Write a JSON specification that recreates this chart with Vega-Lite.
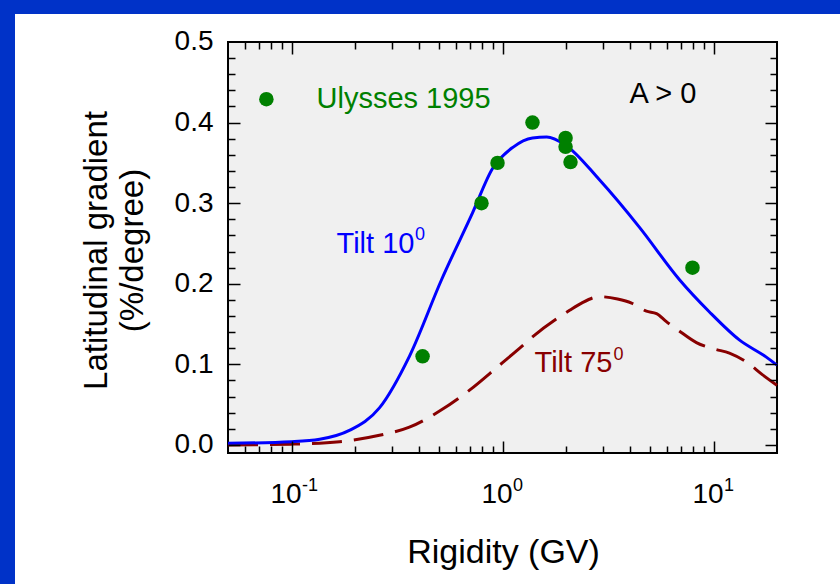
{
  "$schema": "https://vega.github.io/schema/vega-lite/v6.json",
  "width": 825,
  "height": 570,
  "autosize": {"type": "none"},
  "padding": {"left": 15, "top": 14, "right": 0, "bottom": 0},
  "background": "#0032c8",
  "config": {
    "view": {"fill": "white", "stroke": null},
    "axis": {"grid": false, "labelFont": "Liberation Sans", "titleFont": "Liberation Sans", "labelColor": "black", "titleColor": "black", "tickColor": "black"}
  },
  "datasets": {
    "panel": [{"x1": 0.05, "x2": 20, "y1": -0.01, "y2": 0.5}],
    "tilt10": [
      {"rigidity": 0.05, "gradient": 0.002},
      {"rigidity": 0.1, "gradient": 0.004},
      {"rigidity": 0.136, "gradient": 0.007},
      {"rigidity": 0.188, "gradient": 0.018},
      {"rigidity": 0.261, "gradient": 0.046},
      {"rigidity": 0.362, "gradient": 0.11},
      {"rigidity": 0.514, "gradient": 0.205},
      {"rigidity": 0.721, "gradient": 0.288},
      {"rigidity": 0.897, "gradient": 0.343},
      {"rigidity": 1.115, "gradient": 0.369},
      {"rigidity": 1.387, "gradient": 0.381},
      {"rigidity": 1.62, "gradient": 0.382},
      {"rigidity": 1.99, "gradient": 0.372},
      {"rigidity": 2.88, "gradient": 0.329},
      {"rigidity": 4.46, "gradient": 0.27},
      {"rigidity": 6.9, "gradient": 0.205},
      {"rigidity": 9.57, "gradient": 0.165},
      {"rigidity": 13.3, "gradient": 0.13},
      {"rigidity": 17.8, "gradient": 0.109},
      {"rigidity": 20, "gradient": 0.099}
    ],
    "tilt75": [
      {"rigidity": 0.05, "gradient": 0.0},
      {"rigidity": 0.1, "gradient": 0.001},
      {"rigidity": 0.169, "gradient": 0.004},
      {"rigidity": 0.261, "gradient": 0.012},
      {"rigidity": 0.362, "gradient": 0.022},
      {"rigidity": 0.503, "gradient": 0.042},
      {"rigidity": 0.698, "gradient": 0.068},
      {"rigidity": 0.968, "gradient": 0.099},
      {"rigidity": 1.23, "gradient": 0.122},
      {"rigidity": 1.387, "gradient": 0.134},
      {"rigidity": 2.08, "gradient": 0.167},
      {"rigidity": 2.37, "gradient": 0.176},
      {"rigidity": 2.88, "gradient": 0.184},
      {"rigidity": 3.51, "gradient": 0.181},
      {"rigidity": 4.09, "gradient": 0.176},
      {"rigidity": 4.81, "gradient": 0.166},
      {"rigidity": 5.37, "gradient": 0.163},
      {"rigidity": 5.98, "gradient": 0.153},
      {"rigidity": 6.75, "gradient": 0.143},
      {"rigidity": 8.3, "gradient": 0.127},
      {"rigidity": 10.1, "gradient": 0.119},
      {"rigidity": 11.9, "gradient": 0.114},
      {"rigidity": 14.3, "gradient": 0.103},
      {"rigidity": 17.1, "gradient": 0.087},
      {"rigidity": 20, "gradient": 0.074}
    ],
    "ulysses": [
      {"rigidity": 0.418, "gradient": 0.11},
      {"rigidity": 0.795, "gradient": 0.3},
      {"rigidity": 0.947, "gradient": 0.35},
      {"rigidity": 1.387, "gradient": 0.4},
      {"rigidity": 1.99, "gradient": 0.381},
      {"rigidity": 1.99, "gradient": 0.37},
      {"rigidity": 2.1, "gradient": 0.351},
      {"rigidity": 7.95, "gradient": 0.22}
    ],
    "legendDot": [{"rigidity": 0.076, "gradient": 0.429}],
    "notes": [
      {"note": "Ulysses 1995", "rigidity": 0.1314, "gradient": 0.418, "kind": "legend"},
      {"note": "A > 0", "rigidity": 4.0, "gradient": 0.4243, "kind": "polarity"},
      {"note": "Tilt 10", "rigidity": 0.1634, "gradient": 0.2382, "kind": "tilt10"},
      {"note": "Tilt 75", "rigidity": 1.418, "gradient": 0.0906, "kind": "tilt75"}
    ],
    "superscripts": [
      {"note": "0", "rigidity": 0.385, "gradient": 0.2543, "kind": "tilt10"},
      {"note": "0", "rigidity": 3.36, "gradient": 0.1055, "kind": "tilt75"}
    ]
  },
  "resolve": {"axis": {"x": "independent", "y": "independent"}},
  "layer": [
    {
      "data": {"name": "panel"},
      "mark": {"type": "rect", "fill": "#f0f0f0", "stroke": "black", "strokeWidth": 2},
      "encoding": {
        "x": {"field": "x1", "type": "quantitative",
          "scale": {"type": "log", "domain": [0.004891, 39.77], "nice": false},
          "axis": {"orient": "bottom", "offset": -131, "domain": false, "ticks": false, "zindex": 1,
            "values": [0.1, 1, 10],
            "labelExpr": "'10'", "labelOffset": -6,
            "labelFontSize": 28, "labelPadding": 27, "labelFlush": false, "labelOverlap": false,
            "title": "Rigidity (GV)", "titleFontSize": 34, "titleFontWeight": "normal",
            "titleX": 488, "titleY": 82, "titleBaseline": "top", "titleAlign": "center"}},
        "x2": {"field": "x2"},
        "y": {"field": "y1", "type": "quantitative",
          "scale": {"domain": [-0.17256, 0.53474], "nice": false, "zero": false},
          "axis": {"orient": "left", "offset": -213, "domain": false, "ticks": false, "zindex": 1,
            "values": [0, 0.1, 0.2, 0.3, 0.4, 0.5], "format": ".1f",
            "labelFontSize": 28, "labelPadding": 15, "labelFlush": false, "labelOverlap": false,
            "title": ["Latitudinal gradient", "(%/degree)"], "titleFontSize": 33, "titleFontWeight": "normal",
            "titleLineHeight": 36, "titleAngle": -90, "titleBaseline": "alphabetic", "titleAlign": "center",
            "titleX": -122, "titleY": 236}},
        "y2": {"field": "y2"}
      }
    },
    {
      "data": {"name": "panel"},
      "mark": {"type": "rect", "opacity": 0},
      "encoding": {
        "x": {"field": "x1", "type": "quantitative",
          "scale": {"type": "log", "domain": [0.004891, 39.77], "nice": false},
          "axis": {"orient": "bottom", "offset": -131, "domain": false, "ticks": false, "title": null, "zindex": 1,
            "values": [0.1, 1, 10],
            "labelExpr": "datum.value < 0.5 ? '-1' : (datum.value < 5 ? '0' : '1')",
            "labelAlign": "left", "labelOffset": 10,
            "labelFontSize": 18, "labelPadding": 23, "labelFlush": false, "labelOverlap": false}},
        "x2": {"field": "x2"},
        "y": {"field": "y1", "type": "quantitative",
          "scale": {"domain": [-0.17256, 0.53474], "nice": false, "zero": false}, "axis": null},
        "y2": {"field": "y2"}
      }
    },
    {
      "data": {"name": "panel"},
      "mark": {"type": "rect", "opacity": 0},
      "encoding": {
        "x": {"field": "x1", "type": "quantitative",
          "scale": {"type": "log", "domain": [0.004891, 39.77], "nice": false},
          "axis": {"orient": "bottom", "offset": -131, "domain": false, "labels": false, "title": null, "zindex": 1,
            "values": [0.1, 1, 10], "tickSize": -12, "tickWidth": 1.5}},
        "x2": {"field": "x2"},
        "y": {"field": "y1", "type": "quantitative",
          "scale": {"domain": [-0.17256, 0.53474], "nice": false, "zero": false},
          "axis": {"orient": "left", "offset": -213, "domain": false, "labels": false, "title": null, "zindex": 1,
            "values": [0, 0.1, 0.2, 0.3, 0.4], "tickSize": -12, "tickWidth": 1.5}},
        "y2": {"field": "y2"}
      }
    },
    {
      "data": {"name": "panel"},
      "mark": {"type": "rect", "opacity": 0},
      "encoding": {
        "x": {"field": "x1", "type": "quantitative",
          "scale": {"type": "log", "domain": [0.004891, 39.77], "nice": false},
          "axis": {"orient": "bottom", "offset": -131, "domain": false, "labels": false, "title": null, "zindex": 1,
            "values": [0.06, 0.07, 0.08, 0.09, 0.2, 0.3, 0.4, 0.5, 0.6, 0.7, 0.8, 0.9, 2, 3, 4, 5, 6, 7, 8, 9],
            "tickSize": -7, "tickWidth": 1.5}},
        "x2": {"field": "x2"},
        "y": {"field": "y1", "type": "quantitative",
          "scale": {"domain": [-0.17256, 0.53474], "nice": false, "zero": false},
          "axis": {"orient": "left", "offset": -213, "domain": false, "labels": false, "title": null, "zindex": 1,
            "values": [0.02, 0.04, 0.06, 0.08, 0.12, 0.14, 0.16, 0.18, 0.22, 0.24, 0.26, 0.28, 0.32, 0.34, 0.36, 0.38, 0.42, 0.44, 0.46, 0.48],
            "tickSize": -7, "tickWidth": 1.5}},
        "y2": {"field": "y2"}
      }
    },
    {
      "data": {"name": "panel"},
      "mark": {"type": "rect", "opacity": 0},
      "encoding": {
        "x": {"field": "x1", "type": "quantitative",
          "scale": {"type": "log", "domain": [0.004891, 39.77], "nice": false},
          "axis": {"orient": "top", "offset": -28, "domain": false, "labels": false, "title": null, "zindex": 1,
            "values": [0.1, 1, 10], "tickSize": -12, "tickWidth": 1.5}},
        "x2": {"field": "x2"},
        "y": {"field": "y1", "type": "quantitative",
          "scale": {"domain": [-0.17256, 0.53474], "nice": false, "zero": false},
          "axis": {"orient": "right", "offset": -63, "domain": false, "labels": false, "title": null, "zindex": 1,
            "values": [0, 0.1, 0.2, 0.3, 0.4], "tickSize": -12, "tickWidth": 1.5}},
        "y2": {"field": "y2"}
      }
    },
    {
      "data": {"name": "panel"},
      "mark": {"type": "rect", "opacity": 0},
      "encoding": {
        "x": {"field": "x1", "type": "quantitative",
          "scale": {"type": "log", "domain": [0.004891, 39.77], "nice": false},
          "axis": {"orient": "top", "offset": -28, "domain": false, "labels": false, "title": null, "zindex": 1,
            "values": [0.06, 0.07, 0.08, 0.09, 0.2, 0.3, 0.4, 0.5, 0.6, 0.7, 0.8, 0.9, 2, 3, 4, 5, 6, 7, 8, 9],
            "tickSize": -7, "tickWidth": 1.5}},
        "x2": {"field": "x2"},
        "y": {"field": "y1", "type": "quantitative",
          "scale": {"domain": [-0.17256, 0.53474], "nice": false, "zero": false},
          "axis": {"orient": "right", "offset": -63, "domain": false, "labels": false, "title": null, "zindex": 1,
            "values": [0.02, 0.04, 0.06, 0.08, 0.12, 0.14, 0.16, 0.18, 0.22, 0.24, 0.26, 0.28, 0.32, 0.34, 0.36, 0.38, 0.42, 0.44, 0.46, 0.48],
            "tickSize": -7, "tickWidth": 1.5}},
        "y2": {"field": "y2"}
      }
    },
    {
      "data": {"name": "tilt75"},
      "mark": {"type": "line", "color": "#880000", "strokeWidth": 3, "strokeDash": [30, 12], "interpolate": "monotone"},
      "encoding": {
        "x": {"field": "rigidity", "type": "quantitative", "scale": {"type": "log", "domain": [0.004891, 39.77], "nice": false}, "axis": null},
        "y": {"field": "gradient", "type": "quantitative", "scale": {"domain": [-0.17256, 0.53474], "nice": false, "zero": false}, "axis": null}
      }
    },
    {
      "data": {"name": "tilt10"},
      "mark": {"type": "line", "color": "#0000ff", "strokeWidth": 3, "interpolate": "monotone"},
      "encoding": {
        "x": {"field": "rigidity", "type": "quantitative", "scale": {"type": "log", "domain": [0.004891, 39.77], "nice": false}, "axis": null},
        "y": {"field": "gradient", "type": "quantitative", "scale": {"domain": [-0.17256, 0.53474], "nice": false, "zero": false}, "axis": null}
      }
    },
    {
      "data": {"name": "ulysses"},
      "mark": {"type": "circle", "color": "#008000", "opacity": 1, "size": 210},
      "encoding": {
        "x": {"field": "rigidity", "type": "quantitative", "scale": {"type": "log", "domain": [0.004891, 39.77], "nice": false}, "axis": null},
        "y": {"field": "gradient", "type": "quantitative", "scale": {"domain": [-0.17256, 0.53474], "nice": false, "zero": false}, "axis": null}
      }
    },
    {
      "data": {"name": "legendDot"},
      "mark": {"type": "circle", "color": "#008000", "opacity": 1, "size": 210},
      "encoding": {
        "x": {"field": "rigidity", "type": "quantitative", "scale": {"type": "log", "domain": [0.004891, 39.77], "nice": false}, "axis": null},
        "y": {"field": "gradient", "type": "quantitative", "scale": {"domain": [-0.17256, 0.53474], "nice": false, "zero": false}, "axis": null}
      }
    },
    {
      "data": {"name": "notes"},
      "mark": {"type": "text", "align": "left", "baseline": "alphabetic", "font": "Liberation Sans", "fontSize": 29},
      "encoding": {
        "x": {"field": "rigidity", "type": "quantitative", "scale": {"type": "log", "domain": [0.004891, 39.77], "nice": false}, "axis": null},
        "y": {"field": "gradient", "type": "quantitative", "scale": {"domain": [-0.17256, 0.53474], "nice": false, "zero": false}, "axis": null},
        "text": {"field": "note"},
        "color": {"field": "kind", "type": "nominal", "legend": null,
          "scale": {"domain": ["legend", "polarity", "tilt10", "tilt75"], "range": ["#008000", "#000000", "#0000ff", "#880000"]}}
      }
    },
    {
      "data": {"name": "superscripts"},
      "mark": {"type": "text", "align": "left", "baseline": "alphabetic", "font": "Liberation Sans", "fontSize": 18},
      "encoding": {
        "x": {"field": "rigidity", "type": "quantitative", "scale": {"type": "log", "domain": [0.004891, 39.77], "nice": false}, "axis": null},
        "y": {"field": "gradient", "type": "quantitative", "scale": {"domain": [-0.17256, 0.53474], "nice": false, "zero": false}, "axis": null},
        "text": {"field": "note"},
        "color": {"field": "kind", "type": "nominal", "legend": null,
          "scale": {"domain": ["legend", "polarity", "tilt10", "tilt75"], "range": ["#008000", "#000000", "#0000ff", "#880000"]}}
      }
    }
  ]
}
